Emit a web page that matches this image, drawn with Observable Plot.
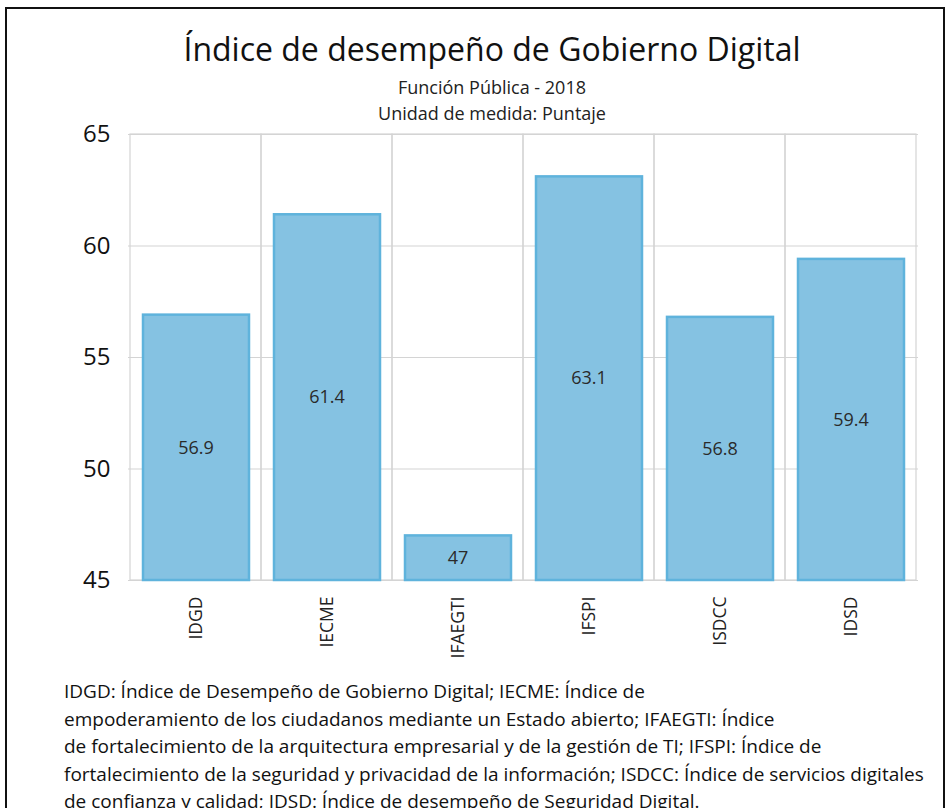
<!DOCTYPE html>
<html>
<head>
<meta charset="utf-8">
<script src="https://cdn.jsdelivr.net/npm/d3@7"></script>
<script src="https://cdn.jsdelivr.net/npm/@observablehq/plot@0.6"></script>
<style>
  html, body { margin: 0; padding: 0; background: #fff; }
  #wrap { position: relative; width: 950px; height: 808px; overflow: hidden; font-family: "Open Sans", "Noto Sans", sans-serif; color: #222; }
  #frame { position: absolute; left: 5px; top: 7px; width: 940px; height: 820px; border: 2px solid #111; box-sizing: border-box; }
  #title { position: absolute; left: 0; width: 984px; top: 27px; text-align: center; font-size: 32px; font-weight: 400; color: #111; white-space: nowrap; }
  #sub1 { position: absolute; left: 0; width: 984px; top: 75px; text-align: center; font-size: 18px; color: #222; white-space: nowrap; }
  #sub2 { position: absolute; left: 0; width: 984px; top: 101px; text-align: center; font-size: 18px; color: #222; white-space: nowrap; }
  #chart { position: absolute; left: 0; top: 120px; }
  #note { position: absolute; left: 64px; top: 678px; font-size: 19px; line-height: 27.5px; color: #111; white-space: nowrap; }
</style>
</head>
<body>
<div id="wrap">
  <div id="frame"></div>
  <div id="title">Índice de desempeño de Gobierno Digital</div>
  <div id="sub1">Función Pública - 2018</div>
  <div id="sub2">Unidad de medida: Puntaje</div>
  <div id="chart"></div>
  <div id="note">IDGD: Índice de Desempeño de Gobierno Digital; IECME: Índice de<br>empoderamiento de los ciudadanos mediante un Estado abierto; IFAEGTI: Índice<br>de fortalecimiento de la arquitectura empresarial y de la gestión de TI; IFSPI: Índice de<br>fortalecimiento de la seguridad y privacidad de la información; ISDCC: Índice de servicios digitales<br>de confianza y calidad; IDSD: Índice de desempeño de Seguridad Digital.</div>
</div>
<script>
const categories = ["IDGD", "IECME", "IFAEGTI", "IFSPI", "ISDCC", "IDSD"];
const values = [56.9, 61.4, 47, 63.1, 56.8, 59.4];
const yTicks = [45, 50, 55, 60, 65];

const data = categories.map((c, i) => ({category: c, value: values[i]}));
const yMin = 45, yMax = 65;

const plot = Plot.plot({
  width: 950,
  height: 560,
  marginTop: 14,
  marginBottom: 100,
  marginLeft: 128,
  marginRight: 32,
  style: {fontFamily: "'Open Sans', 'Noto Sans', sans-serif", background: "transparent", overflow: "visible"},
  x: {domain: categories, paddingInner: 0, paddingOuter: 0, label: null},
  y: {domain: [yMin, yMax], ticks: yTicks, label: null},
  marks: [
    Plot.ruleY(yTicks, {stroke: "#d4d4d4", strokeWidth: 1.2}),
    Plot.barY(categories, {x: d => d, y1: yMin, y2: yMax, fill: "none", stroke: "#d4d4d4", strokeWidth: 1.2}),
    Plot.barY(data, {x: "category", y1: yMin, y2: "value", fill: "#85c2e2", stroke: "#5fb3dc", strokeWidth: 2.5, insetLeft: 13, insetRight: 12}),
    Plot.text(data, {x: "category", y: d => (d.value + yMin) / 2, text: d => String(d.value), fontSize: 18, fill: "#2a2a2a"}),
    Plot.axisY({ticks: yTicks, tickSize: 0, tickPadding: 18, fontSize: 24, fill: "#111"}),
    Plot.axisX({tickSize: 0, tickRotate: -90, tickPadding: 16, fontSize: 17.5, fill: "#222", textAnchor: "end"})
  ]
});
document.getElementById("chart").appendChild(plot);
</script>
</body>
</html>
